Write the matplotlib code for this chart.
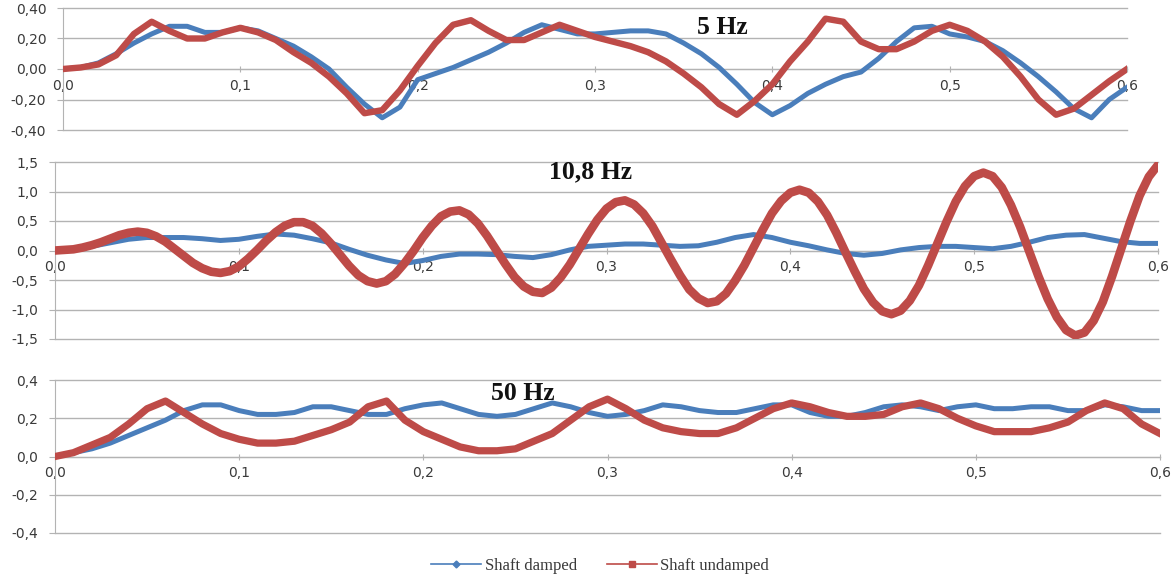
import numpy as np
import matplotlib
matplotlib.use("Agg")
import matplotlib.pyplot as plt
from matplotlib.lines import Line2D
from matplotlib.ticker import FuncFormatter

# time grids (s)
t_01 = np.round(np.arange(61) * 0.01, 3)
t_005 = np.round(np.arange(121) * 0.005, 3)

# 5 Hz
damped_5 = [0.00, 0.01, 0.04, 0.10, 0.17, 0.23, 0.28, 0.28, 0.24, 0.24,
            0.27, 0.25, 0.20, 0.15, 0.08, 0.00, -0.12, -0.23, -0.32, -0.25,
            -0.07, -0.03, 0.01, 0.06, 0.11, 0.17, 0.24, 0.29, 0.26, 0.23,
            0.23, 0.24, 0.25, 0.25, 0.23, 0.17, 0.10, 0.01, -0.10, -0.22,
            -0.30, -0.24, -0.16, -0.10, -0.05, -0.02, 0.07, 0.18, 0.27, 0.28,
            0.23, 0.21, 0.18, 0.12, 0.04, -0.05, -0.15, -0.26, -0.32, -0.20,
            -0.12]
undamped_5 = [0.00, 0.01, 0.03, 0.09, 0.23, 0.31, 0.25, 0.20, 0.20, 0.24,
              0.27, 0.24, 0.19, 0.11, 0.04, -0.05, -0.16, -0.29, -0.27, -0.14,
              0.02, 0.17, 0.29, 0.32, 0.25, 0.19, 0.19, 0.24, 0.29, 0.25,
              0.21, 0.18, 0.15, 0.11, 0.05, -0.03, -0.12, -0.23, -0.30, -0.21,
              -0.10, 0.05, 0.18, 0.33, 0.31, 0.18, 0.13, 0.13, 0.18, 0.25,
              0.29, 0.25, 0.18, 0.08, -0.05, -0.20, -0.30, -0.26, -0.17, -0.08,
              0.00]

# 10,8 Hz
damped_108 = [0.00, 0.01, 0.07, 0.13, 0.19, 0.22, 0.22, 0.22, 0.20, 0.17,
              0.19, 0.24, 0.28, 0.26, 0.20, 0.13, 0.02, -0.08, -0.16, -0.22,
              -0.17, -0.10, -0.06, -0.06, -0.07, -0.10, -0.12, -0.07, 0.01, 0.07,
              0.09, 0.11, 0.11, 0.09, 0.07, 0.08, 0.14, 0.22, 0.27, 0.22,
              0.14, 0.08, 0.01, -0.05, -0.08, -0.05, 0.01, 0.05, 0.07, 0.07,
              0.05, 0.03, 0.07, 0.14, 0.22, 0.26, 0.27, 0.21, 0.15, 0.12,
              0.12]
undamped_108 = [0.00, 0.01, 0.02, 0.05, 0.09, 0.14, 0.20, 0.26, 0.30, 0.32,
                0.30, 0.24, 0.15, 0.03, -0.09, -0.21, -0.30, -0.36, -0.38, -0.35,
                -0.27, -0.14, 0.01, 0.17, 0.31, 0.42, 0.48, 0.48, 0.42, 0.29,
                0.12, -0.07, -0.26, -0.42, -0.52, -0.56, -0.52, -0.40, -0.22, -0.01,
                0.22, 0.42, 0.58, 0.66, 0.68, 0.61, 0.46, 0.25, 0.01, -0.23,
                -0.45, -0.61, -0.70, -0.72, -0.63, -0.46, -0.24, 0.02, 0.28, 0.52,
                0.71, 0.82, 0.85, 0.78, 0.63, 0.41, 0.13, -0.15, -0.42, -0.66,
                -0.81, -0.89, -0.86, -0.73, -0.51, -0.25, 0.05, 0.35, 0.63, 0.84,
                0.98, 1.03, 0.98, 0.83, 0.60, 0.30, -0.03, -0.35, -0.65, -0.88,
                -1.03, -1.08, -1.02, -0.85, -0.59, -0.25, 0.12, 0.49, 0.83, 1.09,
                1.26, 1.32, 1.26, 1.07, 0.77, 0.40, -0.02, -0.44, -0.82, -1.13,
                -1.35, -1.44, -1.39, -1.19, -0.87, -0.44, 0.03, 0.50, 0.93, 1.25,
                1.45]

# 50 Hz
damped_50 = [0.00, 0.02, 0.04, 0.07, 0.11, 0.15, 0.19, 0.24, 0.27, 0.27,
             0.24, 0.22, 0.22, 0.23, 0.26, 0.26, 0.24, 0.22, 0.22, 0.25,
             0.27, 0.28, 0.25, 0.22, 0.21, 0.22, 0.25, 0.28, 0.26, 0.23,
             0.21, 0.22, 0.24, 0.27, 0.26, 0.24, 0.23, 0.23, 0.25, 0.27,
             0.27, 0.23, 0.21, 0.21, 0.23, 0.26, 0.27, 0.26, 0.24, 0.26,
             0.27, 0.25, 0.25, 0.26, 0.26, 0.24, 0.24, 0.27, 0.26, 0.24,
             0.24]
undamped_50 = [0.00, 0.02, 0.06, 0.10, 0.17, 0.25, 0.29, 0.23, 0.17, 0.12,
               0.09, 0.07, 0.07, 0.08, 0.11, 0.14, 0.18, 0.26, 0.29, 0.19,
               0.13, 0.09, 0.05, 0.03, 0.03, 0.04, 0.08, 0.12, 0.19, 0.26,
               0.30, 0.25, 0.19, 0.15, 0.13, 0.12, 0.12, 0.15, 0.20, 0.25,
               0.28, 0.26, 0.23, 0.21, 0.21, 0.22, 0.26, 0.28, 0.25, 0.20,
               0.16, 0.13, 0.13, 0.13, 0.15, 0.18, 0.24, 0.28, 0.25, 0.17,
               0.12]

blue = '#4a7ebb'
red = '#be4b48'
grid_c = '#b3b3b3'
txt_c = '#3a3a3a'

fig = plt.figure(figsize=(11.74, 5.76), dpi=100)

panels = [
    # rect, data, ylim, ticks, decimals, title, title pos, red lw
    ([63/1174, 1-130/576, 1064/1174, 122/576], (t_01, damped_5, t_01, undamped_5),
     0.4, np.arange(-0.4, 0.41, 0.2), 2, '5 Hz', (722, 27), 4.6),
    ([55/1174, 1-339/576, 1103/1174, 177/576], (t_01, damped_108, t_005, undamped_108),
     1.5, np.arange(-1.5, 1.51, 0.5), 1, '10,8 Hz', (591, 172), 6.2),
    ([55/1174, 1-533/576, 1105/1174, 153/576], (t_01, damped_50, t_01, undamped_50),
     0.4, np.arange(-0.4, 0.41, 0.2), 1, '50 Hz', (523, 393), 5.2),
]

for rect, (tb, yb, tr, yr), lim, yt, dec, title, tpos, rlw in panels:
    ax = fig.add_axes(rect)
    ax.patch.set_alpha(0)
    ax.plot(tb, yb, color=blue, lw=3.6, solid_joinstyle='round', zorder=3)
    ax.plot(tr, yr, color=red, lw=rlw, solid_joinstyle='round', zorder=4)
    ax.set_xlim(0, 0.6)
    ax.set_ylim(-lim, lim)
    ax.set_yticks(yt)
    ax.set_xticks(np.arange(0, 0.61, 0.1))
    ax.yaxis.set_major_formatter(FuncFormatter(lambda v, p, d=dec: f'{v:.{d}f}'.replace('.', ',').replace('-0,00', '0,00')))
    ax.xaxis.set_major_formatter(FuncFormatter(lambda v, p: f'{v:.1f}'.replace('.', ',')))
    ax.grid(axis='y', color=grid_c, lw=1.0)
    for g in ax.get_ygridlines():
        g.set_clip_on(False)
    ax.set_axisbelow(True)
    for s in ['top', 'right']:
        ax.spines[s].set_visible(False)
    ax.spines['bottom'].set_position(('data', 0))
    ax.spines['bottom'].set_color(grid_c)
    ax.spines['left'].set_color(grid_c)
    ax.spines['bottom'].set_zorder(1)
    ax.tick_params(axis='y', length=4, color=grid_c, labelsize=10, labelcolor=txt_c, pad=8)
    ax.tick_params(axis='x', length=4, color=grid_c, labelsize=10, labelcolor=txt_c, pad=5,
                   direction='inout')
    fig.text(tpos[0]/1174, 1-tpos[1]/576, title, ha='center', va='center',
             fontfamily='Liberation Serif', fontweight='bold', fontsize=18.5, color='#111111')

handles = [Line2D([], [], color=blue, lw=1.2, marker='D', markersize=3.5),
           Line2D([], [], color=red, lw=1.2, marker='s', markersize=5)]
fig.legend(handles, ['Shaft damped', 'Shaft undamped'], loc='center',
           bbox_to_anchor=(600/1174, 1-566/576), ncol=2, frameon=False,
           prop={'family': 'Liberation Serif', 'size': 12}, handlelength=3.0,
           columnspacing=1.8, handletextpad=0.2, labelcolor=txt_c)

fig.savefig('out.png', dpi=100)
